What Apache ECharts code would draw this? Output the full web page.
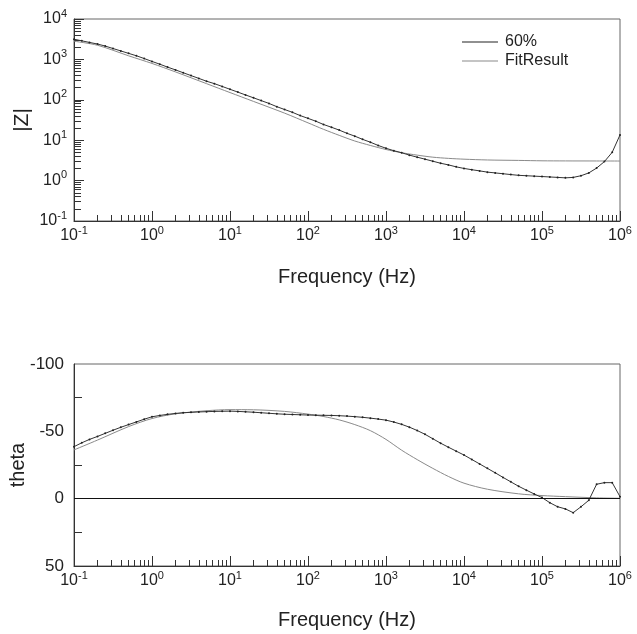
<!DOCTYPE html>
<html><head><meta charset="utf-8">
<script src="https://cdn.jsdelivr.net/npm/echarts@6/dist/echarts.min.js"></script>
<style>html,body{margin:0;padding:0;background:#fff}#c{width:637px;height:634px}</style>
</head><body><div id="c"></div>
<script>
// ---------- data ----------
const freqMeas = [0.1,0.126,0.158,0.2,0.251,0.316,0.398,0.501,0.631,0.794,
 1,1.26,1.58,2,2.51,3.16,3.98,5.01,6.31,7.94,
 10,12.6,15.8,20,25.1,31.6,39.8,50.1,63.1,79.4,
 100,126,158,200,251,316,398,501,631,794,
 1000,1259,1585,1995,2512,3162,3981,5012,6310,7943,
 10000,12589,15849,19953,25119,31623,39811,50119,63096,79433,
 100000,125893,158489,199526,251189,316228,398107,501187,630957,794328,1000000];
const zMeas = [3160,2880,2630,2400,2140,1860,1620,1410,1230,1050,
 890,760,645,550,468,398,339,288,251,214,
 182,155,132,112,95.5,81.3,67.6,57.5,49.0,40.7,
 34.7,29.5,24.5,20.9,17.8,14.8,12.6,10.5,8.91,7.41,
 6.31,5.50,4.90,4.27,3.80,3.39,3.02,2.69,2.45,2.19,
 2.00,1.86,1.74,1.62,1.55,1.48,1.41,1.35,1.32,1.29,
 1.26,1.23,1.20,1.17,1.20,1.32,1.55,2.04,2.95,5.01,13.5];
const thetaMeas = [-38.6,-41.5,-44.0,-46.2,-48.5,-50.8,-53.0,-55.0,-57.0,-59.0,
 -60.8,-61.8,-62.6,-63.3,-63.8,-64.1,-64.4,-64.6,-64.8,-64.9,
 -65.0,-64.8,-64.5,-64.2,-63.8,-63.4,-63.0,-62.7,-62.5,-62.3,
 -62.1,-62.0,-61.9,-61.8,-61.6,-61.3,-60.9,-60.4,-59.8,-59.1,
 -58.3,-56.9,-55.2,-53.1,-50.6,-47.8,-44.5,-41.2,-38.2,-35.3,
 -32.4,-29.1,-25.8,-22.5,-19.2,-15.8,-12.5,-9.2,-6.3,-3.5,
 -0.8,3.0,6.0,7.6,10.4,6.0,1.2,-10.7,-11.9,-11.9,-1.5];
const freqFit = [0.1,0.2,0.5,1,2,5,10,20,50,100,158,251,398,631,1000,1585,2512,3981,6310,10000,20000,50000,100000,200000,500000,1000000];
const zFit = [2820,2240,1230,794,490,251,151,91.2,46.8,26.9,18.6,13.2,9.55,7.41,5.89,4.90,4.27,3.80,3.55,3.39,3.24,3.16,3.09,3.07,3.06,3.05];
const thetaFit = [-36.2,-43.5,-53.5,-59.5,-63.0,-65.3,-66.1,-66.0,-64.8,-62.8,-61.0,-58.5,-55.0,-50.5,-44.0,-36.0,-29.0,-22.5,-16.5,-11.5,-7.0,-3.6,-2.3,-1.5,-0.6,-0.3];
const seriesNames = ['60%','FitResult'];
const freqDecades = [0.1,1,10,100,1000,10000,100000,1000000];
const zDecades = [0.1,1,10,100,1000,10000];
const minorMantissas = [2,3,4,5,6,7,8,9];
const thetaMinorTicks = [-75,-25,25];
const xTitle = 'Frequency (Hz)';
const zTitle = '|Z|';
const thetaTitle = 'theta';

// ---------- helpers ----------
const FONT = '"Liberation Sans", Arial, sans-serif';
const TXT = '#222';
const AX = '#333';
function minorOf(decades){
  const out = [];
  decades.slice(0,-1).forEach(d => minorMantissas.forEach(m => out.push(+(d*m).toPrecision(3))));
  return out;
}
const pow10 = v => '{b|10}{s|' + Math.round(Math.log10(v)) + '}';
const rich = {
  b:{fontSize:16, fontFamily:FONT, color:TXT, lineHeight:22},
  s:{fontSize:11, fontFamily:FONT, color:TXT, lineHeight:11, verticalAlign:'top'}
};
const pairs = (xs, ys) => xs.map((x,i)=>[x, ys[i]]);

function majorX(gi, gap){
  return {type:'log', logBase:10, gridIndex:gi, min:0.1, max:1e6, position:'bottom',
    name:xTitle, nameLocation:'middle', nameGap:gap, nameMoveOverlap:false,
    nameTextStyle:{fontSize:20, fontFamily:FONT, color:TXT},
    axisLine:{show:true, onZero:false, lineStyle:{color:AX, width:1}},
    axisTick:{show:true, inside:true, length:10, lineStyle:{color:AX}, customValues:freqDecades},
    axisLabel:{show:true, margin:4, formatter:pow10, rich:rich, customValues:freqDecades},
    splitLine:{show:false}, minorTick:{show:false}};
}
function minorX(gi){
  return {type:'log', logBase:10, gridIndex:gi, min:0.1, max:1e6, position:'bottom',
    axisLine:{show:false, onZero:false}, axisLabel:{show:false}, splitLine:{show:false},
    axisTick:{show:true, inside:true, length:6, lineStyle:{color:AX}, customValues:minorOf(freqDecades)}};
}

const option = {
  backgroundColor:'#fff',
  animation:false,
  textStyle:{fontFamily:FONT},
  grid:[
    {left:74, top:19, width:546, height:202, show:true, borderColor:'#666', borderWidth:1, outerBoundsMode:'none', containLabel:false},
    {left:74, top:364, width:546, height:202, show:true, borderColor:'#666', borderWidth:1, outerBoundsMode:'none', containLabel:false}
  ],
  legend:{
    show:true, orient:'vertical', left:457, top:29, itemWidth:36, itemHeight:1, itemGap:3,
    icon:'rect', data:seriesNames,
    textStyle:{fontSize:16, lineHeight:16, fontFamily:FONT, color:TXT, padding:[0,0,0,2]},
    selectedMode:false, z:10
  },
  xAxis:[majorX(0, 46), minorX(0), majorX(1, 44), minorX(1)],
  yAxis:[
    {type:'log', logBase:10, gridIndex:0, min:0.1, max:1e4, position:'left',
     name:zTitle, nameLocation:'middle', nameGap:41, nameMoveOverlap:false,
     nameTextStyle:{fontSize:21, fontFamily:FONT, color:TXT},
     axisLine:{show:true, onZero:false, lineStyle:{color:AX}},
     axisTick:{show:true, inside:true, length:10, lineStyle:{color:AX}, customValues:zDecades},
     axisLabel:{show:true, margin:7, formatter:pow10, rich:rich, customValues:zDecades},
     splitLine:{show:false}},
    {type:'log', logBase:10, gridIndex:0, min:0.1, max:1e4, position:'left',
     axisLine:{show:false, onZero:false}, axisLabel:{show:false}, splitLine:{show:false},
     axisTick:{show:true, inside:true, length:7, lineStyle:{color:AX}, customValues:minorOf(zDecades)}},
    {type:'value', gridIndex:1, min:-100, max:50, interval:50, inverse:true, position:'left',
     name:thetaTitle, nameLocation:'middle', nameGap:46, nameMoveOverlap:false,
     nameTextStyle:{fontSize:20, fontFamily:FONT, color:TXT},
     axisLine:{show:true, onZero:false, lineStyle:{color:AX}},
     axisTick:{show:true, inside:true, length:8, lineStyle:{color:AX}, customValues:thetaMinorTicks},
     axisLabel:{show:true, margin:10, fontSize:17, fontFamily:FONT, color:TXT},
     splitLine:{show:false}}
  ],
  series:[
    {name:seriesNames[0], type:'line', xAxisIndex:0, yAxisIndex:0, data:pairs(freqMeas,zMeas),
     symbol:'circle', symbolSize:2, showSymbol:true, itemStyle:{color:'#222'},
     lineStyle:{color:'#333', width:1}, z:3},
    {name:seriesNames[1], type:'line', xAxisIndex:0, yAxisIndex:0, data:pairs(freqFit,zFit),
     symbol:'none', smooth:0.3, itemStyle:{color:'#8a8a8a'}, lineStyle:{color:'#8a8a8a', width:1}, z:2},
    {name:seriesNames[0], type:'line', xAxisIndex:2, yAxisIndex:2, data:pairs(freqMeas,thetaMeas),
     symbol:'circle', symbolSize:2, showSymbol:true, itemStyle:{color:'#222'},
     lineStyle:{color:'#333', width:1}, z:3},
    {name:seriesNames[1], type:'line', xAxisIndex:2, yAxisIndex:2, data:pairs(freqFit,thetaFit),
     symbol:'none', smooth:0.3, itemStyle:{color:'#8a8a8a'}, lineStyle:{color:'#8a8a8a', width:1}, z:2,
     markLine:{silent:true, symbol:'none', label:{show:false},
       lineStyle:{color:'#111', type:'solid', width:1}, data:[{yAxis:0}]}}
  ]
};
const chart = echarts.init(document.getElementById('c'));
chart.setOption(option);
</script>
</body></html>
